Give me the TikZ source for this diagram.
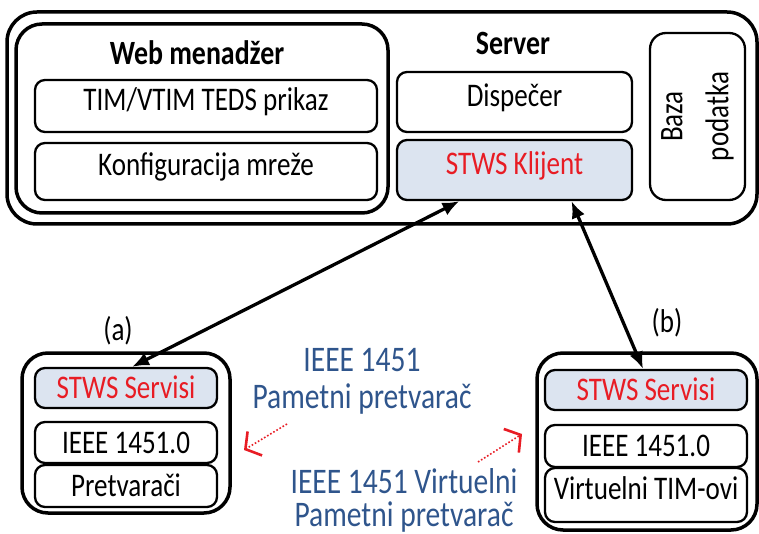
\documentclass[tikz,border=0pt]{standalone}
\usepackage{fontspec}
\setmainfont{Carlito}[FakeStretch=0.82]
\usepackage{xcolor}
\usepackage{tikz}
\usetikzlibrary{arrows.meta}
\definecolor{stwsred}{RGB}{232,28,36}
\definecolor{stwsfill}{RGB}{220,228,240}
\definecolor{noteblue}{RGB}{47,85,140}

\begin{document}
\begin{tikzpicture}[x=1pt, y=-1pt,
    frame/.style={draw, line width=3.5pt, rounded corners=26pt},
    item/.style={draw, line width=2.3pt, rounded corners=10pt, font=\fontsize{33}{36}\selectfont, text height=22pt, text depth=1pt},
    topitem/.style={item, text depth=13pt},
    stws/.style={fill=stwsfill, text=stwsred},
    title/.style={font=\fontsize{34}{36}\selectfont\bfseries},
    note/.style={text=noteblue, align=center, inner sep=1pt},
    link/.style={{Latex[length=17pt,width=14pt]}-{Latex[length=17pt,width=14pt]}, line width=3.3pt},
    hint/.style={-{Straight Barb[length=11pt,width=28pt,line width=2.6pt]}, stwsred, dotted, line width=1.6pt}]
        \useasboundingbox (0,0) rectangle (759,534);

        % server
        \node[frame, rounded corners=30pt, minimum width=750pt, minimum height=212pt] (server) at (382,118) {};
        \node[frame, minimum width=372pt, minimum height=189pt] (webmgr) at (202,118.5) {};
        \node[title] (webTitle) at (197,53) {Web menadžer};
        \node[topitem, minimum width=342pt, minimum height=52pt] (teds) at (206,106) {TIM/VTIM TEDS prikaz};
        \node[topitem, minimum width=342pt, minimum height=57pt] (konfig) at (206,171.5) {Konfiguracija mreže};

        \node[title] (srvTitle) at (513,43) {Server};
        \node[topitem, minimum width=235pt, minimum height=60pt] (dispecer) at (514.5,102) {Dispečer};
        \node[topitem, stws, minimum width=235pt, minimum height=60pt] (klijent) at (514.5,170) {STWS Klijent};
        \node[draw, line width=2.3pt, rounded corners=16pt, rotate=90, minimum width=167pt, minimum height=95pt, align=center, font=\fontsize{33}{46}\selectfont] (baza) at (697.5,116.5) {Baza\\podatka};

        % device (a)
        \node[frame, minimum width=208pt, minimum height=160pt] (devA) at (126,433) {};
        \node[item, stws, minimum width=182pt, minimum height=40pt] (servisA) at (126,388) {STWS Servisi};
        \node[item, minimum width=182pt, minimum height=41pt] (ieeeA) at (126,442.5) {IEEE 1451.0};
        \node[item, minimum width=182pt, minimum height=42pt] (pretvA) at (126,486) {Pretvarači};
        \node[font=\fontsize{33}{36}\selectfont] (lblA) at (118,331) {(a)};

        % device (b)
        \node[frame, minimum width=220pt, minimum height=177pt] (devB) at (647,441.5) {};
        \node[item, stws, minimum width=202pt, minimum height=40pt] (servisB) at (646,390) {STWS Servisi};
        \node[item, minimum width=202pt, minimum height=42pt] (ieeeB) at (646,446) {IEEE 1451.0};
        \node[topitem, minimum width=202pt, minimum height=54pt] (virtB) at (646,495) {Virtuelni TIM-ovi};
        \node[font=\fontsize{33}{36}\selectfont] (lblB) at (667,323) {(b)};

        \node[note, font=\fontsize{36}{37}\selectfont] (smartNote) at (362,381.5) {IEEE 1451\\Pametni pretvarač};
        \node[note, font=\fontsize{36}{33}\selectfont] (virtNote) at (404,500) {IEEE 1451 Virtuelni\\Pametni pretvarač};

        \draw[link] ([xshift=-55pt]klijent.south) -- ([xshift=6pt]servisA.north);
        \draw[link] ([xshift=57pt]klijent.south) -- ([xshift=-3pt]servisB.north);

        \coordinate (hintA) at (287,424);
        \coordinate (toA) at (244,450);
        \coordinate (hintB) at (478,462);
        \coordinate (toB) at (522,434);
        \draw[hint] (hintA) -- (toA);
        \draw[hint] (hintB) -- (toB);
    \end{tikzpicture}
\end{document}
